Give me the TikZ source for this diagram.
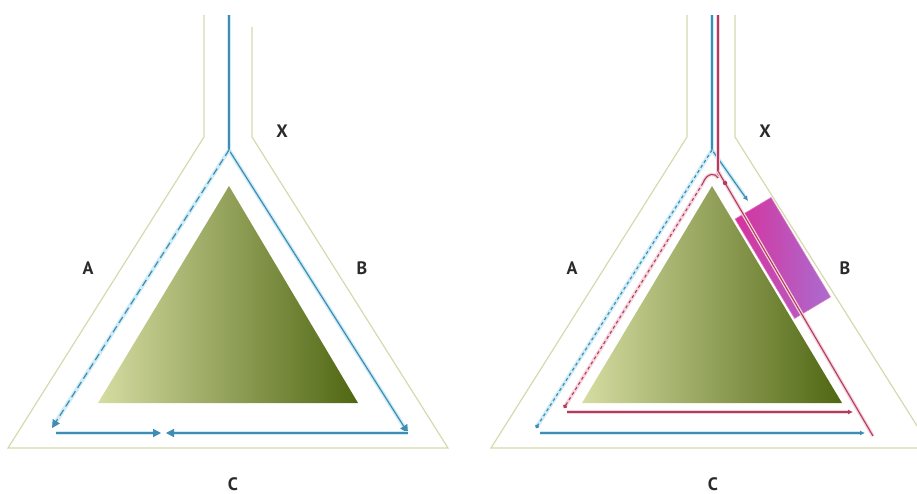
\documentclass[tikz,border=0pt]{standalone}
\usepackage{fontspec}
\setmainfont{PT Sans}
\usetikzlibrary{arrows.meta}
\definecolor{wallgreen}{HTML}{D6D9AE}
\definecolor{flowblue}{HTML}{3F8DB3}
\definecolor{haloblue}{HTML}{CFECF6}
\definecolor{flowred}{HTML}{B23C5E}
\definecolor{halored}{HTML}{F4D3DC}
\definecolor{leafpale}{HTML}{D6DDA2}
\definecolor{leafmid}{HTML}{9BA35F}
\definecolor{leafdark}{HTML}{4F6612}
\definecolor{boxviolet}{HTML}{8C8EE2}
\definecolor{boxmagenta}{HTML}{D6329C}
\definecolor{boxplum}{HTML}{AA6CD0}
\definecolor{labelgray}{HTML}{2A2A2A}

\begin{document}
\begin{tikzpicture}[x=1pt,y=-1pt,
  wall/.style={draw=wallgreen,line width=1.2pt},
  flow/.style={draw=flowblue,line width=1.2pt,preaction={draw=haloblue,line width=4pt}},
  back/.style={draw=flowred,line width=1.1pt,preaction={draw=halored,line width=3.6pt}},
  tipbig/.style={-{Triangle[length=8pt,width=8pt]}},
  tipsmall/.style={-{Latex[length=5pt,width=5pt]}},
  tipdot/.style={-{Circle[length=4pt]}},
  lbl/.style={font=\fontsize{18}{20}\selectfont\bfseries,text=labelgray,inner sep=0pt}]

  \clip (0,0) rectangle (917,494);

  % left flask
  \draw[wall] (204,15) -- (204,137) -- (8,448) -- (448,448) -- (252,137) -- (252,27);
  \shade[left color=leafpale,middle color=leafmid,right color=leafdark]
    (98,403) -- (229,186) -- (358,403) -- cycle;

  \coordinate (lsrc) at (229,15);
  \coordinate (lfork) at (229,150);
  \coordinate (lcornA) at (52,428);
  \coordinate (lstartA) at (56,433);
  \coordinate (lmidA) at (161,433);
  \coordinate (lcornB) at (408,433);
  \coordinate (lmidB) at (166,433);

  \draw[flow] (lsrc) -- (lfork);
  \draw[flow,tipbig] (lfork) -- (lcornB);
  \draw[flow,dash pattern=on 7pt off 4pt,tipbig] (lfork) -- (lcornA);
  \draw[flow,tipbig] (lstartA) -- (lmidA);
  \draw[flow,tipbig] (lcornB) -- (lmidB);

  \node[lbl] (lX) at (282,131) {X};
  \node[lbl] (lA) at (88,268) {A};
  \node[lbl] (lB) at (362,268) {B};
  \node[lbl] (lC) at (233,484) {C};

  % right flask
  \draw[wall] (687,15) -- (687,137) -- (491,448) -- (931,448) -- (735,137) -- (735,15);
  \shade[left color=leafpale,middle color=leafmid,right color=leafdark]
    (582,403) -- (712,186) -- (842,403) -- cycle;
  \begin{scope}[shift={(735,219)},rotate=30.9]
    \shade[left color=boxmagenta,middle color=boxviolet,right color=boxplum,
      draw=boxmagenta!60,line width=0.5pt] (0,0) rectangle (42,116);
  \end{scope}

  \coordinate (rsrcB) at (712,15);
  \coordinate (rforkB) at (712,150);
  \coordinate (rtipB) at (748,201);
  \coordinate (rcornB) at (536,428);
  \coordinate (rstartB) at (540,433);
  \coordinate (rendB) at (865,433);

  \coordinate (rsrcR) at (718,15);
  \coordinate (rforkR) at (718,178);
  \coordinate (rbendR) at (703,183);
  \coordinate (rcornR) at (564,408);
  \coordinate (rstartR) at (567,412);
  \coordinate (rendR) at (853,412);
  \coordinate (rjoinR) at (718,171);
  \coordinate (rexitR) at (873,436);

  \draw[flow] (rsrcB) -- (rforkB);
  \draw[flow,tipsmall] (rforkB) -- (rtipB);
  \draw[flow,dashed,tipdot] (rforkB) -- (rcornB);
  \draw[flow,tipsmall] (rstartB) -- (rendB);

  \draw[back] (rsrcR) -- (rforkR);
  \draw[back] (rforkR) .. controls (716,173) and (707,172) .. (rbendR);
  \draw[back,dashed,tipdot] (rbendR) -- (rcornR);
  \draw[back,tipsmall] (rstartR) -- (rendR);
  \draw[back] (rjoinR) -- (rexitR);
  \node[circle,fill=flowred,inner sep=0pt,minimum size=4.5pt] (rdot) at (725,183) {};

  \node[lbl] (rX) at (765,131) {X};
  \node[lbl] (rA) at (572,268) {A};
  \node[lbl] (rB) at (845,268) {B};
  \node[lbl] (rC) at (713,484) {C};
\end{tikzpicture}
\end{document}
